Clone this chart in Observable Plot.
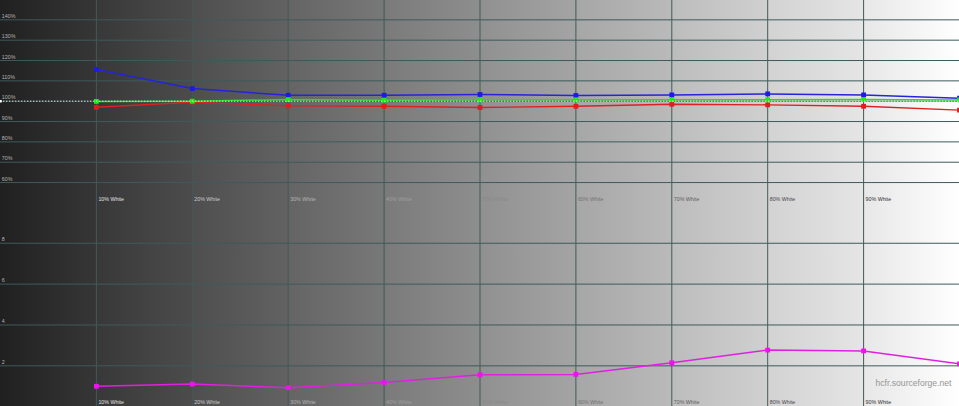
<!DOCTYPE html>
<html>
<head>
<meta charset="utf-8">
<script src="https://cdn.jsdelivr.net/npm/d3@7"></script>
<script src="https://cdn.jsdelivr.net/npm/@observablehq/plot@0.6"></script>
<style>
  html, body { margin: 0; padding: 0; background: #fff; overflow: hidden; }
  #chart {
    position: relative; width: 959px; height: 406px;
    background: linear-gradient(to right,
      #202020 0%, #363636 10%, #383838 10%, #4c4c4c 20%,
      #4e4e4e 20%, #626262 30%, #646464 30%, #787878 40%,
      #7a7a7a 40%, #8e8e8e 50%, #909090 50%, #a4a4a4 60%,
      #a6a6a6 60%, #bababa 70%, #bcbcbc 70%, #d0d0d0 80%,
      #d2d2d2 80%, #e5e5e5 90%, #e7e7e7 90%, #ffffff 100%);
  }
  #chart svg { display: block; }
</style>
</head>
<body>
<div id="chart"></div>
<script>
// ---- data ----
const levels = [10, 20, 30, 40, 50, 60, 70, 80, 90, 100];
const gridLevels = [10, 20, 30, 40, 50, 60, 70, 80, 90];
const levelLabels = ["10% White", "20% White", "30% White", "40% White", "50% White",
                     "60% White", "70% White", "80% White", "90% White"];
const redPct   = [97.0, 99.5, 97.7, 97.5, 96.9, 97.5, 98.5, 98.2, 97.5, 95.6];
const greenPct = [99.9, 100.0, 100.8, 100.5, 100.7, 100.7, 100.7, 100.7, 100.8, 100.6];
const bluePct  = [115.6, 106.2, 102.9, 102.9, 103.3, 102.8, 103.1, 103.6, 103.1, 101.5];
const deltaE   = [1.00, 1.11, 0.93, 1.18, 1.56, 1.58, 2.15, 2.77, 2.73, 2.10];
const pctTicks = [60, 70, 80, 90, 100, 110, 120, 130, 140];
const pctTickLabels = ["60%", "70%", "80%", "90%", "100%", "110%", "120%", "130%", "140%"];
const deTicks = [2, 4, 6, 8];
const deTickLabels = ["2", "4", "6", "8"];
const watermark = "hcfr.sourceforge.net";

// ---- styling helpers ----
const FONT = "Liberation Sans, Arial, sans-serif";
const GRID = "#3f5a5a";
const labelFill = (lv) => {
  const bg = 34 + 2.2 * (lv + 1.5);
  const v = Math.max(30, Math.min(230, Math.round(284 - bg)));
  return `rgb(${v},${v},${v})`;
};
const rgbRows = levels.map((lv, i) => ({level: lv, red: redPct[i], green: greenPct[i], blue: bluePct[i]}));
const deRows = levels.map((lv, i) => ({level: lv, de: deltaE[i]}));
const levelLabelRows = gridLevels.map((lv, i) => ({level: lv, label: levelLabels[i]}));

const common = {
  width: 959, height: 203,
  marginTop: 0, marginRight: 0, marginBottom: 0, marginLeft: 0,
  x: {domain: [0, 100], range: [0, 959], axis: null},
  color: {type: "identity"},
  style: {background: "none", overflow: "hidden"}
};

const levelText = () => Plot.text(levelLabelRows, {
  x: "level", text: "label", frameAnchor: "bottom", lineAnchor: "middle",
  dy: -4, dx: 2, textAnchor: "start", fontSize: 5.3, fontFamily: FONT,
  fill: d => labelFill(d.level)
});

// ---- top panel: RGB balance ----
const rgbPlot = Plot.plot({
  ...common,
  y: {domain: [50, 150], range: [202.4, -1], axis: null},
  marks: [
    Plot.ruleX(gridLevels, {stroke: GRID, strokeWidth: 1}),
    Plot.ruleY(pctTicks, {stroke: GRID, strokeWidth: 1}),
    Plot.text(pctTicks, {
      y: d => d, text: (d, i) => pctTickLabels[i], frameAnchor: "left",
      dx: 1.3, dy: -3.6, textAnchor: "start", lineAnchor: "middle",
      fontSize: 5.3, fontFamily: FONT, fill: "#b4b4b4"
    }),
    levelText(),
    Plot.line(rgbRows, {x: "level", y: "red", stroke: "#dd2020", strokeWidth: 1.4}),
    Plot.dot(rgbRows, {x: "level", y: "red", symbol: "square", r: 2.7, fill: "#e01c1c", stroke: "none"}),
    Plot.line(rgbRows, {x: "level", y: "blue", stroke: "#2424d8", strokeWidth: 1.5}),
    Plot.dot(rgbRows, {x: "level", y: "blue", symbol: "square", r: 2.7, fill: "#1c1ce0", stroke: "none"}),
    Plot.line(rgbRows, {x: "level", y: "green", stroke: "#22dd22", strokeWidth: 1.5}),
    Plot.dot(rgbRows, {x: "level", y: "green", symbol: "square", r: 2.7, fill: "#14f014", stroke: "none"}),
    Plot.ruleY([100], {stroke: "#f4f4f4", strokeWidth: 1, strokeDasharray: "1.4,1.6", strokeOpacity: 0.9}),
    Plot.dot([100], {x: 0, y: d => d, symbol: "square", r: 1.4, fill: "#ffffff", stroke: "none"})
  ]
});

// ---- bottom panel: delta E ----
const dePlot = Plot.plot({
  ...common,
  y: {domain: [0, 10], range: [203.2, -1.1], axis: null},
  marks: [
    Plot.ruleX(gridLevels, {stroke: GRID, strokeWidth: 1}),
    Plot.ruleY(deTicks, {stroke: GRID, strokeWidth: 1}),
    Plot.text(deTicks, {
      y: d => d, text: (d, i) => deTickLabels[i], frameAnchor: "left",
      dx: 1.3, dy: -3.6, textAnchor: "start", lineAnchor: "middle",
      fontSize: 5.3, fontFamily: FONT, fill: "#b4b4b4"
    }),
    levelText(),
    Plot.text([watermark], {
      text: d => d, frameAnchor: "top-right", dx: -8, dy: 179.3,
      textAnchor: "end", lineAnchor: "middle",
      fontSize: 8.6, fontFamily: FONT, fill: "#969696"
    }),
    Plot.line(deRows, {x: "level", y: "de", stroke: "#e020e0", strokeWidth: 1.5}),
    Plot.dot(deRows, {x: "level", y: "de", symbol: "square", r: 2.7, fill: "#f010f0", stroke: "none"})
  ]
});

const chart = document.getElementById("chart");
chart.appendChild(rgbPlot);
chart.appendChild(dePlot);
</script>
</body>
</html>
